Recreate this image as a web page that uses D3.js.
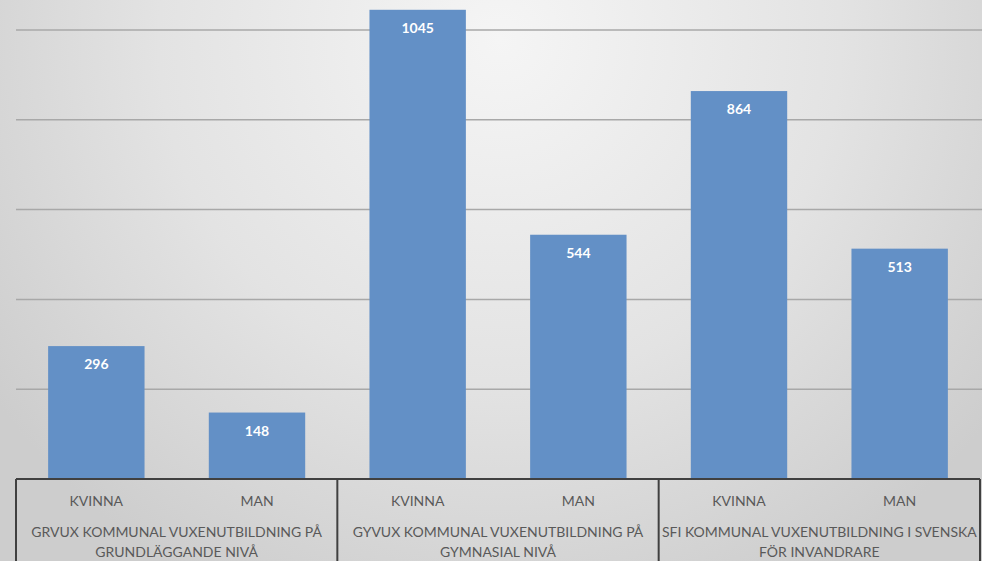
<!DOCTYPE html>
<html><head><meta charset="utf-8">
<script src="https://cdn.jsdelivr.net/npm/d3@7"></script>
<style>html,body{margin:0;padding:0;overflow:hidden;background:#e0e0e0}</style>
</head><body>
<svg id="c" width="982" height="561"></svg>
<script>
const groups = ["GRVUX KOMMUNAL VUXENUTBILDNING PÅ|GRUNDLÄGGANDE NIVÅ",
                "GYVUX KOMMUNAL VUXENUTBILDNING PÅ|GYMNASIAL NIVÅ",
                "SFI KOMMUNAL VUXENUTBILDNING I SVENSKA|FÖR INVANDRARE"];
const genders = ["KVINNA", "MAN"];
const values = [296, 148, 1045, 544, 864, 513];
const gridTicks = [0, 200, 400, 600, 800, 1000];

const W = 982, H = 561;
const m = {left: 16, right: 2, top: 0, bottom: 82};
const svg = d3.select("#c");
const defs = svg.append("defs");
const rg = defs.append("radialGradient").attr("id","bg")
  .attr("gradientUnits","userSpaceOnUse").attr("cx",500).attr("cy",40).attr("r",620);
rg.append("stop").attr("offset","0%").attr("stop-color","#f5f5f5");
rg.append("stop").attr("offset","55%").attr("stop-color","#e3e3e3");
rg.append("stop").attr("offset","100%").attr("stop-color","#cdcdcd");
svg.append("rect").attr("width",W).attr("height",H).attr("fill","url(#bg)");

const cats = [];
groups.forEach((g,gi)=>genders.forEach((s,si)=>cats.push({g:gi,s:s,v:values[gi*2+si],i:gi*2+si})));

const x = d3.scaleBand().domain(d3.range(cats.length)).range([m.left, W - m.right]).paddingInner(0.4).paddingOuter(0.2);
const xs = d3.scaleBand().domain(d3.range(cats.length)).range([m.left, W - m.right]);
const base = H - m.bottom;
const y = d3.scaleLinear().domain([0, 1000]).range([base, base - 449]);

// gridlines
svg.append("g").selectAll("line").data(gridTicks.filter(t=>t>0)).join("line")
  .attr("x1", m.left).attr("x2", W).attr("y1", d=>y(d)).attr("y2", d=>y(d))
  .attr("stroke","#a8a8a8").attr("stroke-width",1.5);

// bars
svg.append("g").selectAll("rect").data(cats).join("rect")
  .attr("x", d=>x(d.i)).attr("width", x.bandwidth())
  .attr("y", d=>y(d.v)).attr("height", d=>base - y(d.v))
  .attr("fill","#6390c6");

svg.append("g").selectAll("text").data(cats).join("text")
  .attr("x", d=>x(d.i)+x.bandwidth()/2).attr("y", d=>y(d.v)+23)
  .attr("text-anchor","middle").attr("fill","#ffffff")
  .attr("font-family","Lato, 'Open Sans', sans-serif").attr("font-weight","bold").attr("font-size",14)
  .text(d=>d.v);

// axis table
const ax = svg.append("g").attr("stroke","#404040").attr("stroke-width",2);
ax.append("line").attr("x1",m.left).attr("x2",W-m.right).attr("y1",base).attr("y2",base);
const seps = [0,2,4,6].map(i => i<6 ? xs(i) : xs(5)+xs.bandwidth());
ax.selectAll("line.sep").data(seps).join("line").attr("class","sep")
  .attr("x1",d=>d).attr("x2",d=>d).attr("y1",base).attr("y2",H);

const tf = "Lato, 'Open Sans', sans-serif";
svg.append("g").selectAll("text").data(cats).join("text")
  .attr("x", d=>xs(d.i)+xs.bandwidth()/2).attr("y", base+27)
  .attr("text-anchor","middle").attr("fill","#595959")
  .attr("font-family",tf).attr("font-size",14).text(d=>d.s);

const gl = svg.append("g").selectAll("text").data(groups).join("text")
  .attr("text-anchor","middle").attr("fill","#595959")
  .attr("font-family",tf).attr("font-size",14);
gl.each(function(d,gi){
  const cx = (xs(gi*2) + xs(gi*2+1) + xs.bandwidth())/2;
  d.split("|").forEach((line,li)=>{
    d3.select(this).append("tspan").attr("x",cx).attr("y",base+58+li*20).text(line);
  });
});
</script>
</body></html>
